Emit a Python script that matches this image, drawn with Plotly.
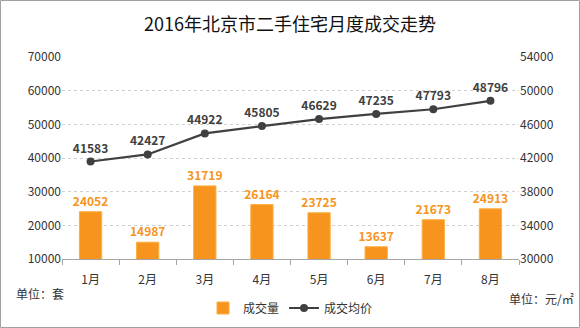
import plotly.graph_objects as go

months = ["1月", "2月", "3月", "4月", "5月", "6月", "7月", "8月"]
volume = [24052, 14987, 31719, 26164, 23725, 13637, 21673, 24913]
avg_price = [41583, 42427, 44922, 45805, 46629, 47235, 47793, 48796]

left_ticks = [10000, 20000, 30000, 40000, 50000, 60000, 70000]
right_ticks = [30000, 34000, 38000, 42000, 46000, 50000, 54000]

W, H = 580, 328
ML, MR, MT, MB = 62, 61, 57, 69
PW, PH = W - ML - MR, H - MT - MB

ORANGE = "#F7941D"
DARK = "#404040"
FONT = "Noto Sans CJK SC"

fig = go.Figure()

fig.add_trace(go.Bar(
    x=months, y=volume, name="成交量",
    marker=dict(color=ORANGE, line=dict(color="#FBB040", width=1)),
    text=[str(v) for v in volume], textposition="outside", constraintext="none",
    textfont=dict(color=ORANGE, size=12, family=FONT, weight="bold"),
    cliponaxis=False, yaxis="y",
))

fig.add_trace(go.Scatter(
    x=months, y=avg_price, name="成交均价", mode="lines+markers+text",
    line=dict(color=DARK, width=2.2),
    marker=dict(color=DARK, size=8),
    text=[str(v) for v in avg_price], textposition="top center",
    textfont=dict(color=DARK, size=12, family=FONT, weight="bold"),
    cliponaxis=False, yaxis="y2",
))

def px_x(p):
    return (p - ML) / PW

def px_y(p):
    return 1 - (p - MT) / PH

fig.update_layout(
    width=W, height=H,
    margin=dict(l=ML, r=MR, t=MT, b=MB, autoexpand=False),
    paper_bgcolor="white", plot_bgcolor="white",
    font=dict(family=FONT, color="#333333", size=12),
    title=dict(text="2016年北京市二手住宅月度成交走势", x=0.5, xanchor="center",
               y=1 - 25 / H, yanchor="middle",
               font=dict(size=18, color="#111111", family=FONT)),
    bargap=0.61,
    showlegend=True,
    legend=dict(orientation="h", x=0.5, xanchor="center", y=px_y(308), yanchor="middle",
                font=dict(size=12, family=FONT, color="#333333"),
                traceorder="normal", itemwidth=30, tracegroupgap=0),
    xaxis=dict(
        showline=True, linecolor="#A6A6A6", linewidth=1,
        ticks="outside", tickson="boundaries", ticklen=5, tickcolor="#A6A6A6",
        ticklabelstandoff=10,
        tickfont=dict(size=12, color="#333333"), showgrid=False,
    ),
    yaxis=dict(
        range=[10000, 70000], tickvals=left_ticks,
        ticktext=[str(v) for v in left_ticks],
        showgrid=True, gridcolor="#D0D0D0", griddash="dot", gridwidth=1,
        zeroline=False, ticks="", tickfont=dict(size=12, color="#333333"),
    ),
    yaxis2=dict(
        range=[30000, 54000], tickvals=right_ticks,
        ticktext=[str(v) for v in right_ticks],
        overlaying="y", side="right", showgrid=False, zeroline=False,
        ticks="", tickfont=dict(size=12, color="#333333"),
    ),
    shapes=[dict(type="rect", xref="paper", yref="paper",
                 x0=px_x(0.5), x1=px_x(W - 0.5), y0=px_y(H - 0.5), y1=px_y(0.5),
                 line=dict(color="#A0A0A0", width=1), layer="below")],
    annotations=[
        dict(text="单位：套", xref="paper", yref="paper", x=px_x(14), y=px_y(293),
             xanchor="left", yanchor="middle", showarrow=False,
             font=dict(size=12, color="#333333")),
        dict(text="单位：元/㎡", xref="paper", yref="paper", x=px_x(576), y=px_y(298),
             xanchor="right", yanchor="middle", showarrow=False,
             font=dict(size=12, color="#333333")),
    ],
)

fig.write_html("out.html")
